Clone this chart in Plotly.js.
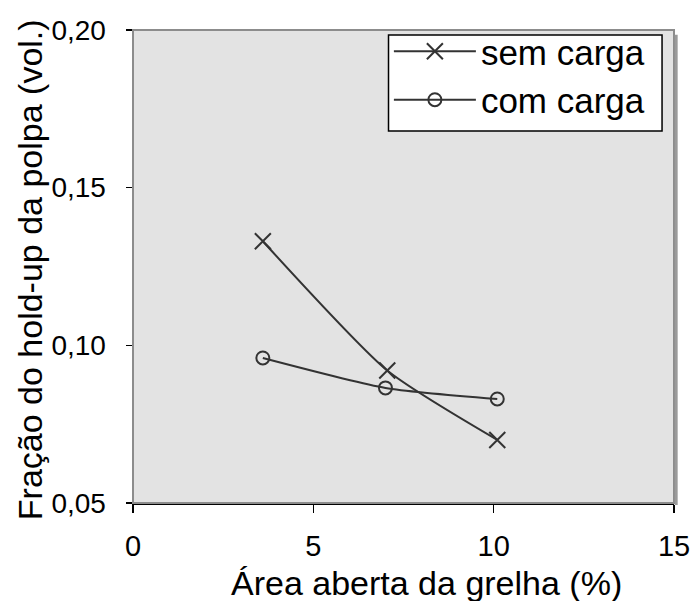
<!DOCTYPE html>
<html>
<head>
<meta charset="utf-8">
<script src="https://cdn.plot.ly/plotly-3.0.1.min.js"></script>
<style>
  html, body { margin: 0; padding: 0; background: #ffffff; }
  #chart { width: 692px; height: 601px; }
</style>
</head>
<body>
<div id="chart"></div>
<script>
// Open grate area (%) versus pulp hold-up fraction
const semCargaX = [3.6, 7.05, 10.1];
const semCargaY = [0.133, 0.092, 0.070];
const comCargaX = [3.6, 7.0, 10.1];
const comCargaY = [0.096, 0.0865, 0.083];
const seriesNames = ['sem carga', 'com carga'];
const xTicks = [0, 5, 10, 15];
const yTicks = [0.05, 0.10, 0.15, 0.20];
const xTitle = 'Área aberta da grelha (%)';
const yTitle = 'Fração do hold-up da polpa (vol.)';

const lineColor = '#333333';
const font = 'Liberation Sans, Arial, sans-serif';

const traces = [
  {
    x: semCargaX, y: semCargaY, name: seriesNames[0],
    mode: 'lines+markers', type: 'scatter',
    line: { color: lineColor, width: 2, shape: 'spline', smoothing: 0.6 },
    marker: { symbol: 'x-thin-open', size: 16, color: lineColor, line: { color: lineColor, width: 2 } }
  },
  {
    x: comCargaX, y: comCargaY, name: seriesNames[1],
    mode: 'lines+markers', type: 'scatter',
    line: { color: lineColor, width: 2, shape: 'spline', smoothing: 0.6 },
    marker: { symbol: 'circle-open', size: 13, color: lineColor, line: { color: lineColor, width: 2 } }
  }
];

const layout = {
  width: 692, height: 601,
  margin: { l: 133, r: 18, t: 30, b: 98 },
  paper_bgcolor: '#ffffff',
  plot_bgcolor: '#e3e3e3',
  separators: ',.',
  font: { family: font, size: 28, color: '#000000' },
  showlegend: true,
  legend: {
    x: 0.473, y: 1.017, xanchor: 'left', yanchor: 'top',
    bgcolor: 'rgba(0,0,0,0)', borderwidth: 0,
    font: { family: font, size: 35, color: '#000000' },
    itemwidth: 82, tracegroupgap: 0
  },
  xaxis: {
    range: [0, 15], tickvals: xTicks, ticktext: xTicks.map(String),
    showgrid: false, zeroline: false,
    showline: true, linecolor: '#000000', linewidth: 1.5,
    ticks: 'outside', ticklen: 8, tickcolor: '#000000', tickwidth: 1.5,
    ticklabelstandoff: 9,
    tickfont: { family: font, size: 29 }
  },
  yaxis: {
    range: [0.05, 0.20], tickvals: yTicks, tickformat: '.2f',
    showgrid: false, zeroline: false,
    showline: true, linecolor: '#000000', linewidth: 1.5,
    ticks: 'outside', ticklen: 6, tickcolor: '#000000', tickwidth: 1.5,
    ticklabelstandoff: 14,
    tickfont: { family: font, size: 28 }
  },
  annotations: [
    { text: xTitle, xref: 'paper', yref: 'paper', x: 0.5424, y: -0.169,
      xanchor: 'center', yanchor: 'middle', showarrow: false,
      font: { family: font, size: 34, color: '#000000' } },
    { text: yTitle, xref: 'paper', yref: 'paper', x: -0.19, y: 0.4926, textangle: -90,
      xanchor: 'center', yanchor: 'middle', showarrow: false,
      font: { family: font, size: 34, color: '#000000' } }
  ],
  shapes: [
    // white legend box
    { type: 'rect', xref: 'paper', yref: 'paper', x0: 0.4723, x1: 0.9779, y0: 0.7865, y1: 0.9894,
      fillcolor: '#ffffff', line: { color: '#000000', width: 1.5 }, layer: 'below' },
    // gray frame around the plotting area
    { type: 'rect', xref: 'paper', yref: 'paper', x0: 0, x1: 1, y0: 0, y1: 1,
      line: { color: '#8c8c8c', width: 2 }, layer: 'above' },
    { type: 'line', xref: 'paper', yref: 'paper', x0: 1.004, x1: 1.004, y0: -0.004, y1: 0.99,
      line: { color: '#9a9a9a', width: 3 }, layer: 'above' }
  ]
};

Plotly.newPlot('chart', traces, layout, { displayModeBar: false, staticPlot: true });
</script>
</body>
</html>
